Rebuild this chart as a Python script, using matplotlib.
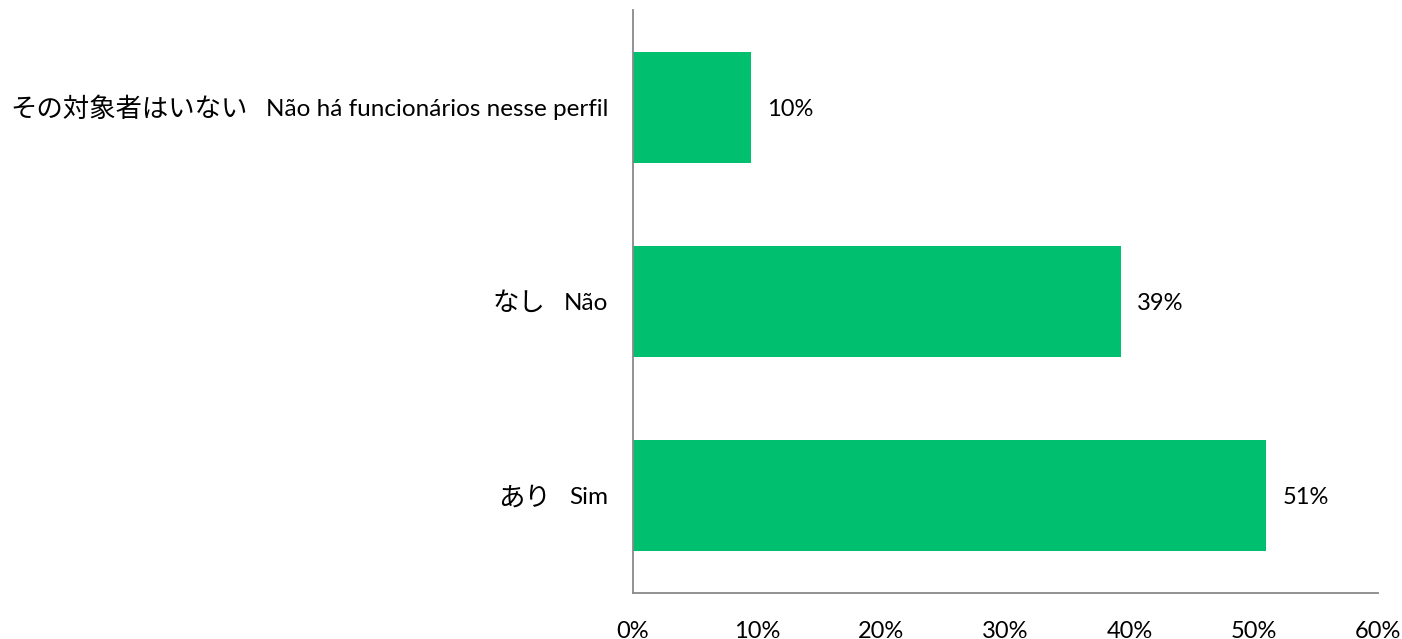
import matplotlib
matplotlib.use("Agg")
import matplotlib.pyplot as plt

categories_jp = ["あり", "なし", "その対象者はいない"]
categories_pt = ["Sim", "Não", "Não há funcionários nesse perfil"]
values = [51.0, 39.3, 9.5]
value_labels = ["51%", "39%", "10%"]
xticks = [0, 10, 20, 30, 40, 50, 60]
xtick_labels = ["0%", "10%", "20%", "30%", "40%", "50%", "60%"]

fam = ["Lato", "Noto Sans CJK JP"]
plt.rcParams["font.family"] = fam

fig = plt.figure(figsize=(14.02, 6.39), dpi=100)
ax = fig.add_axes([633/1402, 1-593/639, (1378-633)/1402, (593-10)/639])

ypos = list(range(len(values)))
ax.barh(ypos, values, height=0.57, color="#00BF6F")
for y, v, lab in zip(ypos, values, value_labels):
    ax.annotate(lab, (v, y), xytext=(11.5, -1.5), textcoords="offset points",
                va="center", ha="left", fontsize=17, family=fam)

ax.set_xlim(0, 60)
ax.set_ylim(-0.5, 2.5)
ax.set_xticks(xticks)
ax.set_xticklabels(xtick_labels, fontsize=17)
ax.set_yticks(ypos)
ax.set_yticklabels(categories_pt, fontsize=17.5)
ax.tick_params(axis="x", length=0, pad=20)
ax.tick_params(axis="y", length=0, pad=18)
for s in ["top", "right"]:
    ax.spines[s].set_visible(False)
for s in ["left", "bottom"]:
    ax.spines[s].set_color("#898989")
    ax.spines[s].set_linewidth(1.3)

fig.canvas.draw()
renderer = fig.canvas.get_renderer()
inv = fig.transFigure.inverted()
for tl, jp in zip(ax.get_yticklabels(), categories_jp):
    bb = tl.get_window_extent(renderer)
    x0 = bb.x0 - 18
    yc = (bb.y0 + bb.y1) / 2
    fx, fy = inv.transform((x0, yc))
    fig.text(fx, fy, jp, ha="right", va="center", fontsize=19,
             family=["Noto Sans CJK JP"])

fig.savefig("out.png", dpi=100)
